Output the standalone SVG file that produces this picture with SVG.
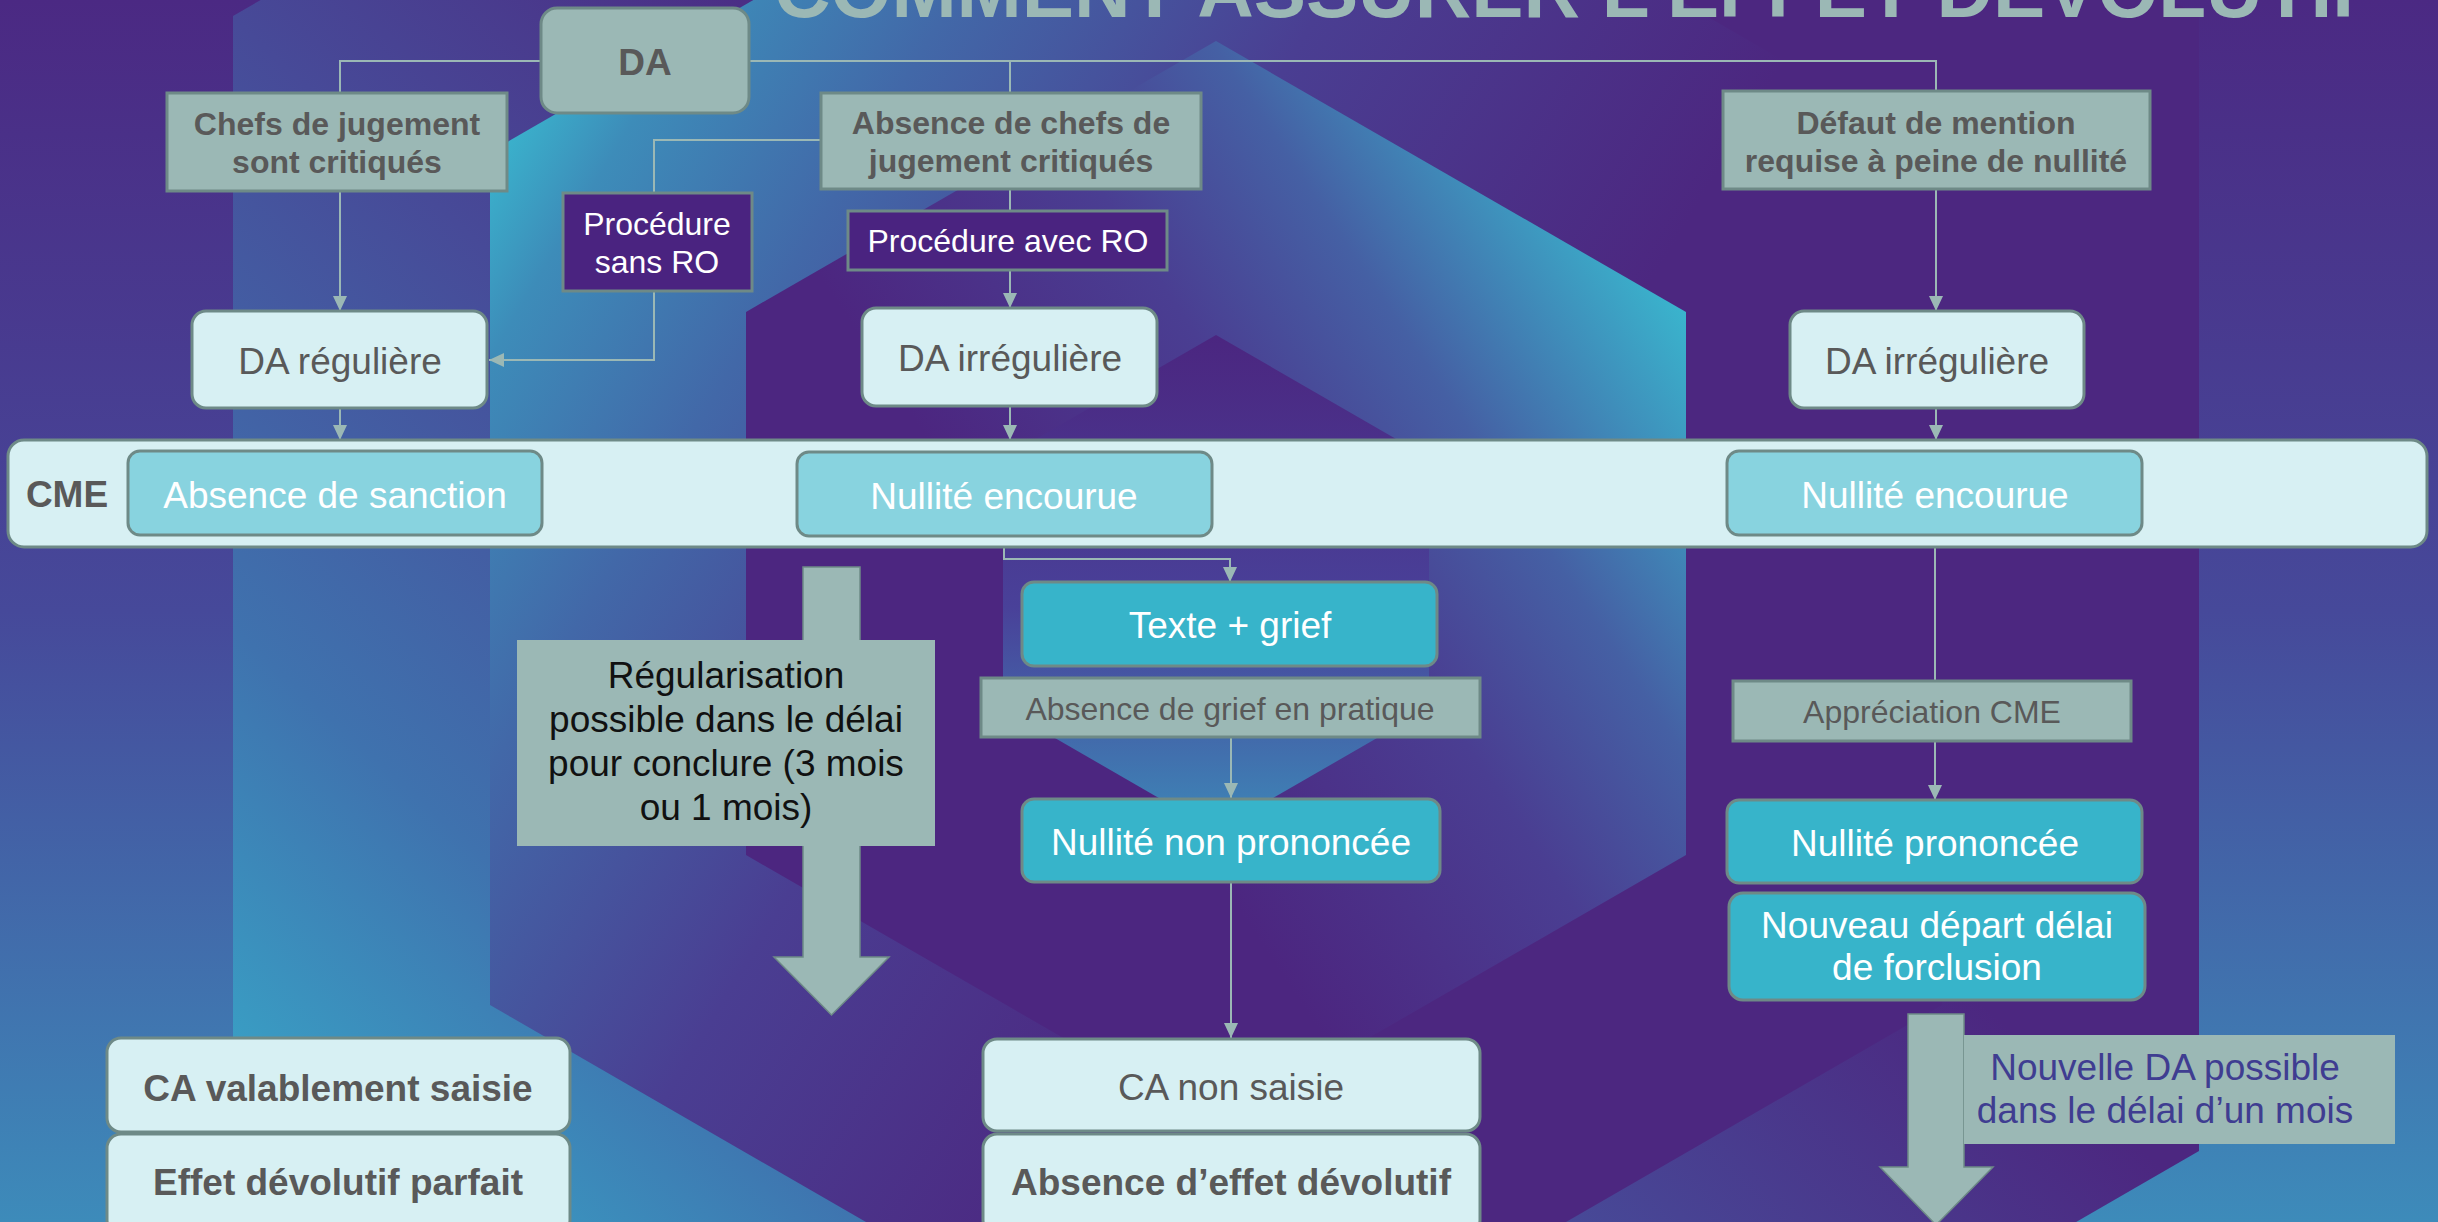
<svg xmlns="http://www.w3.org/2000/svg" width="2438" height="1222" viewBox="0 0 2438 1222">
<defs>
<linearGradient id="bg" gradientUnits="userSpaceOnUse" x1="0" y1="0" x2="0" y2="1222">
<stop offset="0" stop-color="#4B2983"/><stop offset="0.5" stop-color="#46499A"/><stop offset="1" stop-color="#3D8BBA"/>
</linearGradient>
<linearGradient id="h1" gradientUnits="userSpaceOnUse" x1="233" y1="1151" x2="1100" y2="200">
<stop offset="0" stop-color="#38A8C9"/><stop offset="0.3" stop-color="#3F72AE"/><stop offset="0.65" stop-color="#474A98"/><stop offset="1" stop-color="#4C2780"/>
</linearGradient>
<linearGradient id="h2" gradientUnits="userSpaceOnUse" x1="490" y1="152" x2="1400" y2="700">
<stop offset="0" stop-color="#3AB4CD"/><stop offset="0.1" stop-color="#3D8CB9"/><stop offset="0.3" stop-color="#4268A8"/><stop offset="0.6" stop-color="#4A3E92"/><stop offset="1" stop-color="#4C2780"/>
</linearGradient>
<linearGradient id="h3" gradientUnits="userSpaceOnUse" x1="1686" y1="312" x2="1100" y2="700">
<stop offset="0" stop-color="#3AB4CD"/><stop offset="0.35" stop-color="#4560A4"/><stop offset="0.6" stop-color="#4A3E92"/><stop offset="1" stop-color="#4C2680"/>
</linearGradient>
<linearGradient id="h4" gradientUnits="userSpaceOnUse" x1="0" y1="335" x2="0" y2="831">
<stop offset="0" stop-color="#4B2680"/><stop offset="0.55" stop-color="#494199"/><stop offset="1" stop-color="#3D88B8"/>
</linearGradient>
<marker id="ah" markerWidth="15" markerHeight="14" refX="15" refY="7" orient="auto" markerUnits="userSpaceOnUse">
<path d="M0,0 L15,7 L0,14 z" fill="#9BB8B5"/>
</marker>
<style>
.g{fill:#9BB8B5;stroke:#6E8A87;stroke-width:3}
.gn{fill:#9BB8B5;stroke:none}
.lt{fill:#D7F0F3;stroke:#6E8A87;stroke-width:3}
.tl{fill:#88D3DF;stroke:#6E8A87;stroke-width:3}
.tq{fill:#37B4CA;stroke:#6E8A87;stroke-width:3}
.pp{fill:#4A2380;stroke:#6E8A87;stroke-width:3}
.ar{fill:#9BB8B5;stroke:#6E8A87;stroke-width:1.5}
text{font-family:"Liberation Sans",Arial,sans-serif;text-anchor:middle}
.b32{font-size:32px;font-weight:bold;fill:#595959}
.r32{font-size:32px;fill:#595959}
.w32{font-size:32px;fill:#FFFFFF}
.b37{font-size:37px;font-weight:bold;fill:#595959}
.r37{font-size:37px;fill:#595959}
.w37{font-size:37px;fill:#FFFFFF}
.k37{font-size:37px;fill:#111111}
.i37{font-size:37px;fill:#3F3D91}
.c{fill:none;stroke:#9BB8B5;stroke-width:2}
</style>
</defs>

<g id="background">
<rect x="0" y="0" width="2438" height="1222" fill="url(#bg)"/>
<polygon points="1216,-552 2199,16 2199,1151 1216,1719 233,1151 233,16" fill="url(#h1)"/>
<polygon points="1216,-267 1942,152 1942,1005 1216,1424 490,1005 490,152" fill="url(#h2)"/>
<polygon points="1216,41 1686,312 1686,855 1216,1126 746,855 746,312" fill="url(#h3)"/>
<polygon points="1216,335 1429,458 1429,708 1216,831 1003,708 1003,458" fill="url(#h4)"/>
</g>

<g id="title">
<text x="1577" y="17" textLength="1606" lengthAdjust="spacingAndGlyphs" style="font-size:78px;font-weight:bold;fill:#9BB8B5">COMMENT ASSURER L’EFFET DÉVOLUTIF</text>
</g>

<g id="connectors">
<path class="c" d="M541,61 H340 V93"/>
<path class="c" d="M749,61 H1936 V91"/>
<path class="c" d="M1010,61 V93"/>
<path class="c" d="M821,140 H654 V193"/>
<path class="c" d="M654,291 V360 H489" marker-end="url(#ah)"/>
<path class="c" d="M340,191 V311" marker-end="url(#ah)"/>
<path class="c" d="M1010,189 V211"/>
<path class="c" d="M1010,270 V308" marker-end="url(#ah)"/>
<path class="c" d="M1936,189 V311" marker-end="url(#ah)"/>
<path class="c" d="M340,408 V440" marker-end="url(#ah)"/>
<path class="c" d="M1010,406 V440" marker-end="url(#ah)"/>
<path class="c" d="M1936,408 V440" marker-end="url(#ah)"/>
<path class="c" d="M1004,536 V559 H1230 V582" marker-end="url(#ah)"/>
<path class="c" d="M1935,547 V681"/>
<path class="c" d="M1935,741 V800" marker-end="url(#ah)"/>
<path class="c" d="M1231,737 V798" marker-end="url(#ah)"/>
<path class="c" d="M1231,882 V1038" marker-end="url(#ah)"/>
</g>

<g id="node-da"><rect class="g" x="541" y="8" width="208" height="105" rx="16"/><text class="b37" x="645" y="75">DA</text></g>
<g id="node-chefs"><rect class="g" x="167" y="93" width="340" height="98"/><text class="b32" x="337" y="135">Chefs de jugement</text><text class="b32" x="337" y="173">sont critiqués</text></g>
<g id="node-absence-chefs"><rect class="g" x="821" y="93" width="380" height="96"/><text class="b32" x="1011" y="134">Absence de chefs de</text><text class="b32" x="1011" y="172">jugement critiqués</text></g>
<g id="node-defaut"><rect class="g" x="1723" y="91" width="427" height="98"/><text class="b32" x="1936" y="134">Défaut de mention</text><text class="b32" x="1936" y="172">requise à peine de nullité</text></g>
<g id="node-proc-sans"><rect class="pp" x="563" y="193" width="189" height="98"/><text class="w32" x="657" y="235">Procédure</text><text class="w32" x="657" y="273">sans RO</text></g>
<g id="node-proc-avec"><rect class="pp" x="848" y="211" width="319" height="59"/><text class="w32" x="1008" y="252">Procédure avec RO</text></g>
<g id="node-da-reguliere"><rect class="lt" x="192" y="311" width="295" height="97" rx="14"/><text class="r37" x="340" y="374">DA régulière</text></g>
<g id="node-da-irreg-1"><rect class="lt" x="862" y="308" width="295" height="98" rx="14"/><text class="r37" x="1010" y="371">DA irrégulière</text></g>
<g id="node-da-irreg-2"><rect class="lt" x="1790" y="311" width="294" height="97" rx="14"/><text class="r37" x="1937" y="374">DA irrégulière</text></g>

<g id="node-cme">
<rect class="lt" x="8" y="440" width="2419" height="107" rx="16"/>
<text class="b37" x="67" y="507">CME</text>
</g>
<g id="node-absence-sanction"><rect class="tl" x="128" y="451" width="414" height="84" rx="12"/><text class="w37" x="335" y="508">Absence de sanction</text></g>
<g id="node-nullite-encourue-1"><rect class="tl" x="797" y="452" width="415" height="84" rx="12"/><text class="w37" x="1004" y="509">Nullité encourue</text></g>
<g id="node-nullite-encourue-2"><rect class="tl" x="1727" y="451" width="415" height="84" rx="12"/><text class="w37" x="1935" y="508">Nullité encourue</text></g>

<g id="node-regularisation">
<path class="ar" d="M803,567 H860 V957 H889 L831.5,1015 L774,957 H803 Z"/>
<rect class="gn" x="517" y="640" width="418" height="206"/>
<text class="k37" x="726" y="688">Régularisation</text>
<text class="k37" x="726" y="732">possible dans le délai</text>
<text class="k37" x="726" y="776">pour conclure (3 mois</text>
<text class="k37" x="726" y="820">ou 1 mois)</text>
</g>

<g id="node-texte-grief"><rect class="tq" x="1022" y="582" width="415" height="84" rx="12"/><text class="w37" x="1230" y="638">Texte + grief</text></g>
<g id="node-absence-grief"><rect class="g" x="981" y="678" width="499" height="59"/><text class="r32" x="1230" y="720">Absence de grief en pratique</text></g>
<g id="node-nullite-non"><rect class="tq" x="1022" y="799" width="418" height="83" rx="12"/><text class="w37" x="1231" y="855">Nullité non prononcée</text></g>
<g id="node-ca-non-saisie"><rect class="lt" x="983" y="1039" width="497" height="92" rx="14"/><text class="r37" x="1231" y="1100">CA non saisie</text></g>
<g id="node-absence-effet"><rect class="lt" x="983" y="1134" width="497" height="100" rx="14"/><text class="b37" x="1231" y="1195">Absence d’effet dévolutif</text></g>
<g id="node-ca-valablement"><rect class="lt" x="107" y="1038" width="463" height="94" rx="14"/><text class="b37" x="338" y="1101">CA valablement saisie</text></g>
<g id="node-effet-parfait"><rect class="lt" x="107" y="1134" width="463" height="100" rx="14"/><text class="b37" x="338" y="1195">Effet dévolutif parfait</text></g>

<g id="node-appreciation"><rect class="g" x="1733" y="681" width="398" height="60"/><text class="r32" x="1932" y="723">Appréciation CME</text></g>
<g id="node-nullite-prononcee"><rect class="tq" x="1727" y="800" width="415" height="83" rx="12"/><text class="w37" x="1935" y="856">Nullité prononcée</text></g>
<g id="node-nouveau-depart"><rect class="tq" x="1729" y="893" width="416" height="107" rx="14"/><text class="w37" x="1937" y="938">Nouveau départ délai</text><text class="w37" x="1937" y="980">de forclusion</text></g>
<g id="node-nouvelle-da">
<path class="ar" d="M1908,1014 H1964 V1167 H1993 L1936,1225 L1880,1167 H1908 Z"/>
<rect class="gn" x="1964" y="1035" width="431" height="109"/>
<text class="i37" x="2165" y="1080">Nouvelle DA possible</text>
<text class="i37" x="2165" y="1123">dans le délai d’un mois</text>
</g>
</svg>
